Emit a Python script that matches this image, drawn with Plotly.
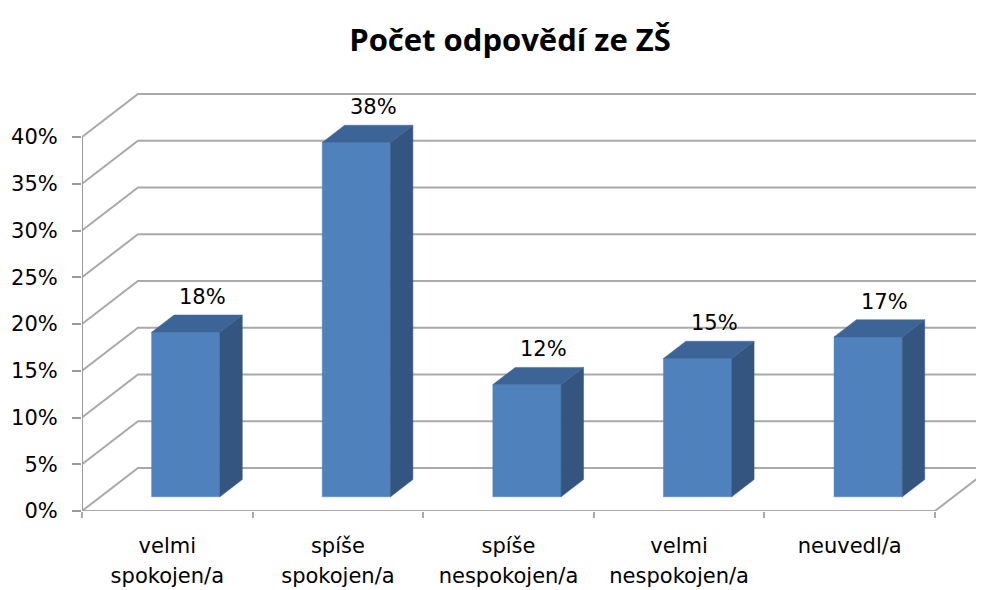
import plotly.graph_objects as go

# ---------------- data ----------------
categories = ["velmi spokojen/a", "spíše spokojen/a", "spíše nespokojen/a",
              "velmi nespokojen/a", "neuvedl/a"]
values = [17.6, 37.9, 12.0, 14.8, 17.1]          # percent
y_ticks = [0, 5, 10, 15, 20, 25, 30, 35, 40]
title_text = "Počet odpovědí ze ZŠ"

# ---------------- style constants ----------------
FONT = "DejaVu Sans"
TITLE_FONT = "Open Sans"
GRID = "#A9A9A9"
AXIS = "#9A9A9A"
FRONT = "#4F81BD"
SIDE = "#33557F"
TOP = "#3C6496"

# page body has an 8px default margin: figure is sized/offset to compensate
W, H = 976, 582
ML, MT = 74, 72
PLOT_W = W - ML
PLOT_H = 431
MB = H - MT - PLOT_H

N = len(categories)
DX = 0.328      # oblique depth offset (category units) for full floor depth
DY = 4.6        # oblique depth offset (percent units) for full floor depth
BAR_W = 0.40    # bar width (category units)
D0 = 0.33       # bar front position as fraction of floor depth
DD = 0.40       # bar depth as fraction of floor depth

X_MAX = PLOT_W / 170.6
Y_MAX = PLOT_H / 9.35

line1 = [c.split(" ", 1)[0] for c in categories]
line2 = [c.split(" ", 1)[1] if " " in c else "" for c in categories]
labels = [f"{round(v)}%" for v in values]

fig = go.Figure()

def add_line(xs, ys, color, width):
    fig.add_trace(go.Scatter(x=xs, y=ys, mode="lines",
                             line=dict(color=color, width=width),
                             hoverinfo="skip", showlegend=False))

# back wall / left wall gridlines
for v in y_ticks:
    add_line([0, DX, N + 1 + DX], [v, v + DY, v + DY], GRID, 2)

# floor edges + vertical axis line
add_line([0, N, N + DX], [0, 0, DY], GRID, 2)
add_line([0, 0], [0, y_ticks[-1]], AXIS, 2)

def poly(xs, ys, color):
    fig.add_trace(go.Scatter(x=xs + [xs[0]], y=ys + [ys[0]], mode="lines",
                             fill="toself", fillcolor=color,
                             line=dict(color=color, width=0.5),
                             hoverinfo="skip", showlegend=False))

# 3D bars
for i, v in enumerate(values):
    cx = i + 0.5 + D0 * DX
    y0 = D0 * DY
    xl, xr = cx - BAR_W / 2, cx + BAR_W / 2
    yt = y0 + v
    ddx, ddy = DD * DX, DD * DY
    poly([xl, xr, xr, xl], [y0, y0, yt, yt], FRONT)
    poly([xr, xr + ddx, xr + ddx, xr], [y0, y0 + ddy, yt + ddy, yt], SIDE)
    poly([xl, xr, xr + ddx, xl + ddx], [yt, yt, yt + ddy, yt + ddy], TOP)
    fig.add_annotation(x=cx + 0.75 * ddx, y=yt + ddy, xref="x", yref="y",
                       text=labels[i], showarrow=False, yanchor="middle",
                       yshift=18, font=dict(family=FONT, size=21, color="#000"))

# dummy traces to bind label axes
fig.add_trace(go.Scatter(x=[None], y=[None], xaxis="x2", showlegend=False))
fig.add_trace(go.Scatter(x=[None], y=[None], xaxis="x3", showlegend=False))

centers = [i + 0.5 for i in range(N)]
tickfont = dict(family=FONT, size=21, color="#000")

fig.update_layout(
    width=W, height=H,
    margin=dict(l=ML, r=0, t=MT, b=MB, autoexpand=False),
    paper_bgcolor="white", plot_bgcolor="white",
    showlegend=False,
    title=dict(text=f"<b>{title_text}</b>", x=502 / W, xanchor="center",
               y=1 - 32 / H, yanchor="middle", yref="container",
               automargin=False,
               font=dict(family=TITLE_FONT, size=31, color="#000")),
    xaxis=dict(range=[0, X_MAX], tickmode="array", automargin=False,
               tickvals=list(range(N + 1)), ticks="outside", ticklen=6,
               tickcolor=GRID, tickwidth=2, showticklabels=False,
               showgrid=False, zeroline=False, showline=False, fixedrange=True),
    xaxis2=dict(range=[0, X_MAX], overlaying="x", anchor="y", side="bottom",
                tickmode="array", tickvals=centers, ticktext=line1,
                automargin=False,
                ticks="outside", ticklen=16, tickcolor="rgba(0,0,0,0)",
                tickfont=tickfont, showgrid=False, zeroline=False,
                showline=False, fixedrange=True),
    xaxis3=dict(range=[0, X_MAX], overlaying="x", anchor="y", side="bottom",
                tickmode="array", tickvals=centers, ticktext=line2,
                automargin=False,
                ticks="outside", ticklen=46, tickcolor="rgba(0,0,0,0)",
                tickfont=tickfont, showgrid=False, zeroline=False,
                showline=False, fixedrange=True),
    yaxis=dict(range=[0, Y_MAX], tickmode="array", tickvals=y_ticks,
               ticktext=[f"{v}%" for v in y_ticks], ticks="outside",
               automargin=False, ticklabelstandoff=10,
               ticklen=9, tickcolor=AXIS, tickwidth=2, tickfont=tickfont,
               showgrid=False, zeroline=False, showline=False, fixedrange=True),
)

fig.write_html("out.html")
